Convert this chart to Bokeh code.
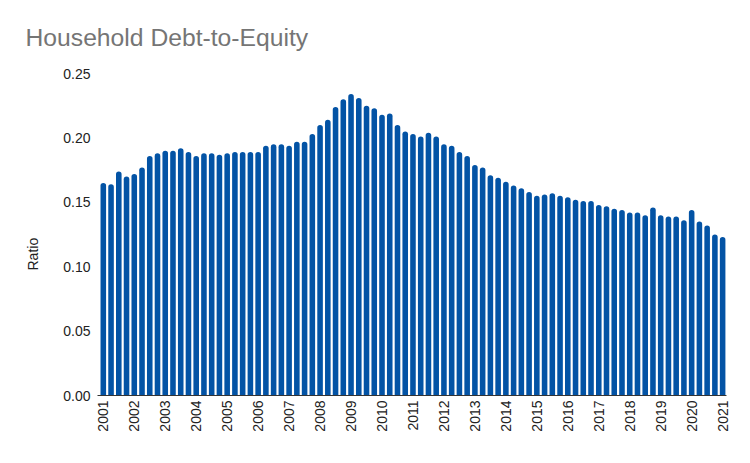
import math
from bokeh.plotting import figure
from bokeh.models import ColumnDataSource, Range1d, FixedTicker, Title
from bokeh.embed import file_html
from bokeh.resources import INLINE

year_labels = [str(y) for y in range(2001, 2022)]
quarters = [f"{y} Q{q}" for y in range(2001, 2022) for q in range(1, 5)][:81]
ratio = [
    0.165, 0.164, 0.174, 0.170, 0.172, 0.177, 0.186, 0.188,
    0.190, 0.190, 0.192, 0.189, 0.186, 0.188, 0.188, 0.187,
    0.188, 0.189, 0.189, 0.189, 0.189, 0.194, 0.195, 0.195,
    0.194, 0.197, 0.197, 0.203, 0.210, 0.214, 0.224, 0.230,
    0.234, 0.231, 0.225, 0.223, 0.218, 0.219, 0.210, 0.205,
    0.203, 0.201, 0.204, 0.201, 0.195, 0.194, 0.189, 0.186,
    0.179, 0.177, 0.171, 0.169, 0.166, 0.163, 0.161, 0.158,
    0.155, 0.156, 0.157, 0.155, 0.154, 0.152, 0.151, 0.151,
    0.148, 0.147, 0.145, 0.144, 0.142, 0.142, 0.140, 0.146,
    0.140, 0.139, 0.139, 0.136, 0.144, 0.135, 0.132, 0.125,
    0.123,
]
y_ticks = [0.0, 0.05, 0.10, 0.15, 0.20, 0.25]

idx = list(range(len(ratio)))
src = ColumnDataSource(dict(x=idx, top=ratio, q=quarters))

FONT = "Liberation Sans"

p = figure(width=742, height=455, output_backend="svg", toolbar_location=None,
           x_range=Range1d(-0.75, 80.5), y_range=Range1d(0, 0.25),
           min_border_left=97, min_border_right=16, min_border_top=72,
           min_border_bottom=60,
           title="Household Debt-to-Equity")
p.outline_line_color = None
p.background_fill_color = "white"
p.border_fill_color = "white"
p.xgrid.grid_line_color = None
p.ygrid.grid_line_color = None

p.title.text_font = FONT
p.title.text_font_size = "24.7px"
p.title.text_font_style = "normal"
p.title.text_color = "#757575"
p.title.align = "left"
p.title.vertical_align = "middle"
p.title.offset = -72
p.title.standoff = 44

p.vbar(x="x", top="top", bottom=0, width=0.72, source=src,
       fill_color="#0353a5", line_color=None,
       border_radius=(3, 3, 0, 0))

# x axis
p.xaxis.ticker = FixedTicker(ticks=[i * 4 for i in range(len(year_labels))])
p.xaxis.major_label_overrides = {i * 4: lab for i, lab in enumerate(year_labels)}
p.xaxis.major_label_orientation = math.pi / 2
p.xaxis.major_tick_line_color = None
p.xaxis.minor_tick_line_color = None
p.xaxis.major_tick_out = 0
p.xaxis.major_tick_in = 0
p.xaxis.axis_line_color = "#333333"
p.xaxis.axis_line_width = 1
p.xaxis.major_label_standoff = 5
p.xaxis.major_label_text_font = FONT
p.xaxis.major_label_text_font_size = "14px"
p.xaxis.major_label_text_color = "#222222"

# y axis (tick labels)
p.yaxis.ticker = FixedTicker(ticks=y_ticks)
p.yaxis.major_label_overrides = {t: f"{t:.2f}" for t in y_ticks}
p.yaxis.axis_line_color = None
p.yaxis.major_tick_line_color = None
p.yaxis.minor_tick_line_color = None
p.yaxis.major_tick_out = 0
p.yaxis.major_tick_in = 0
p.yaxis.major_label_standoff = 7
p.yaxis.major_label_text_font = FONT
p.yaxis.major_label_text_font_size = "14px"
p.yaxis.major_label_text_color = "#222222"

# y axis title as a side title, placed like the reference
ytitle = Title(text="Ratio", align="left", offset=125, standoff=40,
               text_font=FONT, text_font_size="14px",
               text_font_style="normal", text_color="#222222")
p.add_layout(ytitle, "left")

open("out.html", "w").write(file_html(p, INLINE))
